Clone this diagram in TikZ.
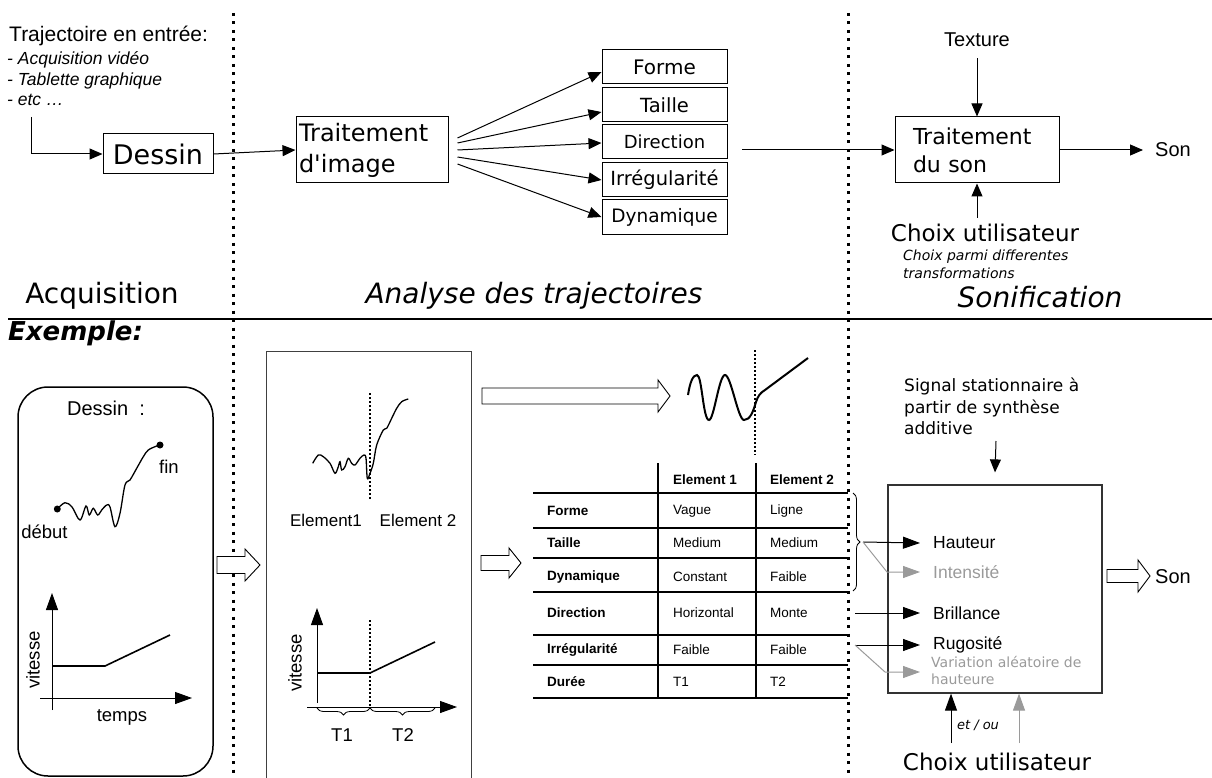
\documentclass[tikz,border=0pt]{standalone}
\usepackage{fontspec}
\setmainfont{DejaVu Sans}
\newfontfamily\djvraw{DejaVu Sans}[Ligatures=TeXOff]
\newfontfamily\arial{Liberation Sans}
\usetikzlibrary{arrows.meta,decorations.pathreplacing,calc}
\newcommand\fs[2]{\fontsize{#1}{#2}\selectfont}
\newcommand\harrow[6]{\draw[hollow] (#1,{#3-#4}) -- ({#2-#6},{#3-#4}) -- ({#2-#6},{#3-#5}) -- (#2,#3) -- ({#2-#6},{#3+#5}) -- ({#2-#6},{#3+#4}) -- (#1,{#3+#4}) -- cycle;}
\definecolor{lgray}{HTML}{9A9A9A}
\begin{document}
\begin{tikzpicture}[x=1pt,y=-1pt,
  arr/.style={-{Triangle[length=13pt,width=11pt]}, line width=1pt},
  barr/.style={-{Triangle[length=17pt,width=12pt]}, line width=1pt},
  sep/.style={line width=3pt, dash pattern=on 3pt off 5.5pt},
  thindot/.style={line width=1.8pt, dash pattern=on 1.8pt off 2.2pt},
  box/.style={draw, line width=1pt, inner sep=0pt},
  fbox/.style={box, minimum width=125pt, minimum height=34pt},
  hollow/.style={draw, fill=white, line width=0.9pt},
  lbl/.style={inner sep=0pt},
  ar/.style={lbl, font=\arial\fs{17}{20}},
  ar2/.style={lbl, font=\arial\fs{18.5}{22}},
  tcell/.style={lbl, anchor=west, font=\arial\fs{13.5}{16}},
  thead/.style={lbl, anchor=west, font=\arial\bfseries\fs{13.5}{16}},
  brc/.style={decorate, decoration={brace, amplitude=7pt}, line width=0.8pt}
]
\useasboundingbox (0,0) rectangle (1212,778);

% ---------- top part ----------
\node[lbl, anchor=base west, font=\arial\fs{21}{25}] (traj) at (9,42) {Trajectoire en entrée:};
\node[lbl, anchor=base west, font=\arial\itshape\fs{17.5}{20}] (l1) at (7,65) {- Acquisition vidéo};
\node[lbl, anchor=base west, font=\arial\itshape\fs{17.5}{20}] (l2) at (7,85.5) {- Tablette graphique};
\node[lbl, anchor=base west, font=\arial\itshape\fs{17.5}{20}] (l3) at (7,106) {- etc …};

\node[box, minimum width=110pt, minimum height=40pt, font=\fs{27}{32}] (dessin) at (158,154) {Dessin};
\coordinate (in) at (31,117);
\draw[arr] (in) |- (dessin.west);

\node[box, minimum width=152pt, minimum height=66pt, align=left, text width=146pt, inner xsep=3pt, font=\djvraw\fs{24}{31}] (ti) at (372,150) {Traitement\\d'image};
\draw[arr] (dessin.east) -- (ti.west);

\node[fbox, font=\fs{20}{24}] (fo) at (664.5,67) {Forme};
\node[fbox, font=\fs{19.5}{24}] (ta) at (664.5,105) {Taille};
\node[fbox, font=\fs{18}{22}] (di) at (664.5,142) {Direction};
\node[fbox, font=\fs{19.5}{24}] (ir) at (664.5,180) {Irrégularité};
\node[fbox, font=\fs{18.5}{22}] (dy) at (664.5,217) {Dynamique};

\draw[arr] ($(ti.east)+(9,-12)$) -- ([yshift=-5pt]fo.west);
\draw[arr] ($(ti.east)+(9,-7)$) -- ([yshift=-7pt]ta.west);
\draw[arr] ($(ti.east)+(9,0)$) -- ([yshift=-1pt]di.west);
\draw[arr] ($(ti.east)+(9,7)$) -- (ir.west);
\draw[arr] ($(ti.east)+(9,14)$) -- (dy.west);

\node[box, minimum width=164pt, minimum height=66pt, align=left, text width=128pt, inner xsep=18pt, font=\fs{22}{28}] (ts) at (977,150) {Traitement\\du son};
\coordinate (feat) at (742,150);
\draw[arr] (feat) -- (ts.west);

\node[lbl, font=\arial\fs{20}{24}] (tex) at (977,40) {Texture};
\draw[arr, shorten <=11pt] (tex.south) -- (ts.north);

\node[lbl, anchor=west, font=\arial\fs{20}{24}] (son1) at (1155,150) {Son};
\draw[arr] (ts.east) -- ([xshift=-12pt]son1.west);

\node[lbl, font=\fs{23}{28}] (cu1) at (985,233) {Choix utilisateur};
\draw[arr] (cu1.north -| ts.south) ++(0,-6) -- (ts.south);
\node[lbl, anchor=north west, align=left, font=\itshape\fs{14}{18}] (cp) at (903,250) {Choix parmi differentes\\transformations};

\node[lbl, font=\fs{28}{32}] (acq) at (102,296) {Acquisition};
\node[lbl, font=\itshape\fs{28}{32}] (ana) at (534,296) {Analyse des trajectoires};
\node[lbl, font=\itshape\fs{28}{32}] (sonif) at (1040,297) {Sonification};

% ---------- separators ----------
\draw[sep] (233,13) -- (233,778);
\draw[sep] (848,13) -- (848,778);
\draw[line width=1.2pt] (8,319) -- (1212,319);
\node[lbl, anchor=west, font=\bfseries\itshape\fs{26}{30}] (ex) at (8,333) {Exemple:};

% ---------- bottom left ----------
\node[draw, rounded corners=30pt, minimum width=195pt, minimum height=389pt, line width=1.5pt] (dbox) at (115.5,581.5) {};
\node[lbl, font=\arial\fs{20}{24}] (dlbl) at (106,408) {Dessin\ \ :};
\draw[line width=1.3pt] plot[smooth, tension=0.55] coordinates {(57.3,509) (65,502.7) (72,507) (80,520) (86,506) (89.3,515) (93.3,508.3) (97.7,515) (101.7,510) (106.7,505) (110,507) (115,526.7) (120,513.3) (125,485) (130,480) (136.7,468.3) (143.3,456.7) (148.3,450) (156.7,446) (160,445)};
\node[circle, fill, inner sep=0pt, minimum size=7pt] (d0) at (57.3,509) {};
\node[circle, fill, inner sep=0pt, minimum size=7pt] (d1) at (160,445) {};
\node[ar2] (fin) at (169,467) {fin};
\node[ar2] (deb) at (44.5,532) {début};

\coordinate (y1a) at (52,710); \coordinate (y1b) at (52,593);
\coordinate (x1a) at (40,698); \coordinate (x1b) at (192,698);
\draw[barr] (y1a) -- (y1b);
\draw[barr] (x1a) -- (x1b);
\draw[line width=1.6pt] (52,666) -- (105,666) -- (170,635);
\node[ar2, rotate=90] (vit1) at (33,660) {vitesse};
\node[ar2] (tmp) at (122,717) {temps};

\harrow{217}{260}{565}{8.5}{16}{15}

% ---------- middle ----------
\draw[line width=1pt, draw=black!75] (266,778) -- (266,351) -- (471,351) -- (471,778);
\draw[line width=1.3pt] plot[smooth, tension=0.55] coordinates {(312.7,463.3) (318.3,455) (323.3,456.7) (330,463.3) (335,473.3) (338.3,466.7) (340,461.7) (341.7,470) (345,466.7) (348.3,458.3) (351.7,463.3) (355,465) (360,458.3) (364,455) (366,458.3) (367.3,478.3) (370,473.3) (373.3,463.3) (376.7,445) (383.3,430) (386.7,428.3) (391.7,418.3) (396.7,408.3) (401.7,401.7) (408.3,399)};
\draw[thindot] (370,393) -- (370,500);
\node[ar] (e1) at (326,520) {Element1};
\node[ar] (e2) at (418,520) {Element 2};

\draw[barr] (317,703) -- (317,608);
\draw[barr] (307,707) -- (457,707);
\draw[line width=1.6pt] (317,673) -- (370,673) -- (435,642);
\draw[thindot] (370,620) -- (370,707);
\draw[brc, decoration={mirror}] (317,708) -- (370,708);
\draw[brc, decoration={mirror}] (370,708) -- (435,708);
\node[ar2] (t1) at (342,735) {T1};
\node[ar2] (t2) at (403,735) {T2};
\node[ar2, rotate=90] (vit2) at (295,663) {vitesse};

\harrow{482}{670}{396}{8}{16}{12}
\harrow{481}{521}{563}{7.5}{15}{12}

% wave
\draw[line width=2pt] (688,395) .. controls (690,382) and (693,375) .. (697,375)
  .. controls (702,375) and (703,420) .. (709,420)
  .. controls (714,420) and (719,375) .. (725,375)
  .. controls (731,375) and (738,420) .. (744,420)
  .. controls (750,420) and (753,412) .. (756,402)
  .. controls (758,396) and (760,393) .. (765,390)
  -- (808,358);
\draw[thindot] (755,350) -- (755,455);

% table
\foreach \yy in {493,528,558,592,635,665,698} \draw[line width=1.3pt] (533,\yy) -- (848,\yy);
\draw[line width=1.3pt] (658,463) -- (658,698);
\draw[line width=1.3pt] (756,463) -- (756,698);
\node[thead] (h1) at (673,480) {Element 1};
\node[thead] (h2) at (770,480) {Element 2};
\node[thead] (r1) at (547,511) {Forme};
\node[tcell] (r1a) at (673,511) {Vague};
\node[tcell] (r1b) at (770,511) {Ligne};
\node[thead] (r2) at (547,543) {Taille};
\node[tcell] (r2a) at (673,543) {Medium};
\node[tcell] (r2b) at (770,543) {Medium};
\node[thead] (r3) at (547,577) {Dynamique};
\node[tcell] (r3a) at (673,577) {Constant};
\node[tcell] (r3b) at (770,577) {Faible};
\node[thead] (r4) at (547,613) {Direction};
\node[tcell] (r4a) at (673,613) {Horizontal};
\node[tcell] (r4b) at (770,613) {Monte};
\node[thead] (r5) at (547,650) {Irrégularité};
\node[tcell] (r5a) at (673,650) {Faible};
\node[tcell] (r5b) at (770,650) {Faible};
\node[thead] (r6) at (547,682) {Durée};
\node[tcell] (r6a) at (673,682) {T1};
\node[tcell] (r6b) at (770,682) {T2};

% ---------- right ----------
\node[draw=black!80, line width=1.2pt, minimum width=214pt, minimum height=208pt, inner sep=0pt] (sb) at (995,589) {};
\node[lbl, anchor=north west, align=left, font=\fs{17}{21.5}] (sig) at (904,378) {Signal stationnaire à\\partir de synthèse\\additive};
\coordinate (sa) at (996,441);
\draw[arr] (sa) -- ([yshift=12pt]sb.north);

\draw[brc] (853,493) -- (853,591);
\coordinate (bt) at (863,542);
\node[lbl, anchor=west, font=\arial\fs{17.5}{20}] (hau) at (933,543) {Hauteur};
\node[lbl, anchor=west, font=\arial\fs{17.5}{20}, text=lgray] (int) at (933,572) {Intensité};
\node[lbl, anchor=west, font=\arial\fs{17.5}{20}] (bri) at (933,613) {Brillance};
\node[lbl, anchor=west, font=\arial\fs{17.5}{20}] (rug) at (933,645) {Rugosité};
\node[lbl, anchor=north west, align=left, font=\fs{14}{17}, text=lgray] (var) at (931,656) {Variation aléatoire de\\hauteure};
\draw[barr] (bt) -- ([xshift=-13pt]hau.west);
\draw[barr, draw=lgray] (bt) -- (887,572) -- ([xshift=-13pt]int.west);
\coordinate (s4) at (855,613);
\coordinate (s5) at (855,645);
\coordinate (s6) at (920,672);
\draw[barr] (s4) -- ([xshift=-13pt]bri.west);
\draw[barr] (s5) -- ([xshift=-13pt]rug.west);
\draw[barr, draw=lgray] (s5) -- (885,672) -- (s6);

\harrow{1107}{1150}{576}{6.5}{16}{12}
\node[lbl, anchor=west, font=\arial\fs{20}{24}] (son2) at (1155,577) {Son};

\node[lbl, font=\fs{23}{28}] (cu2) at (997,762) {Choix utilisateur};
\node[lbl, font=\itshape\fs{13}{16}] (eto) at (978,725) {et / ou};
\coordinate (ua) at (951,743);
\coordinate (ub) at (1019,743);
\draw[barr] (ua) -- (ua |- sb.south);
\draw[barr, draw=lgray] (ub) -- (ub |- sb.south);
\end{tikzpicture}
\end{document}
